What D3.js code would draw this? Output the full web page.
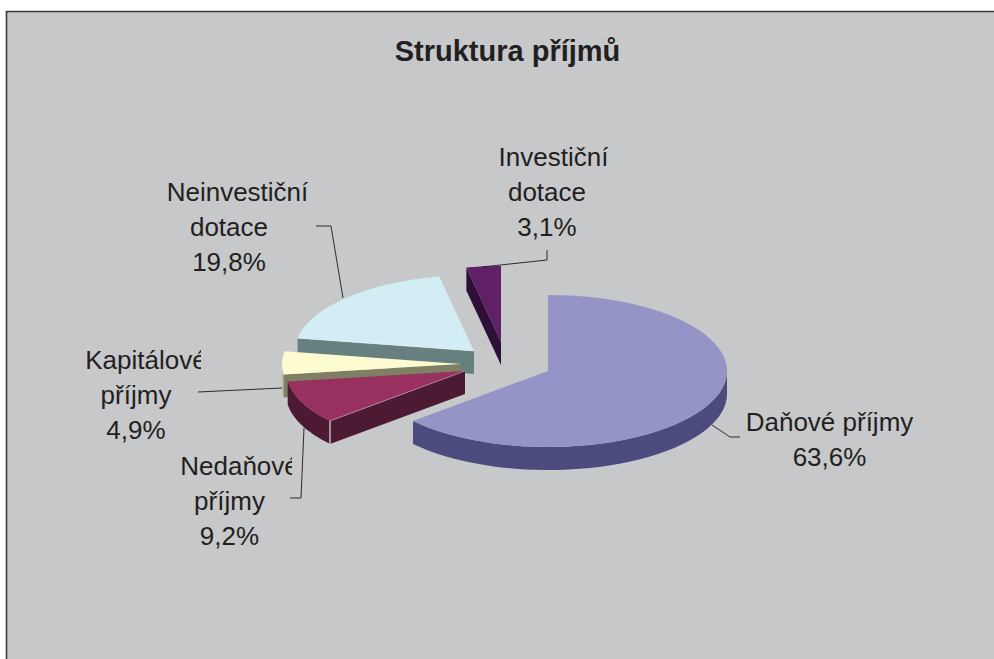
<!DOCTYPE html>
<html>
<head>
<meta charset="utf-8">
<style>
html,body{margin:0;padding:0;background:#fff;}
svg{display:block;}
text{font-family:"Liberation Sans",Arial,sans-serif;fill:#231f20;}
</style>
<script src="https://cdn.jsdelivr.net/npm/d3@7"></script>
</head>
<body>
<svg id="chart" width="994" height="659"></svg>
<script>
// ---- data ----
const categories = ["Daňové příjmy","Nedaňové příjmy","Kapitálové příjmy","Neinvestiční dotace","Investiční dotace"];
const drawnShares = [63.6, 9.2, 4.9, 19.2, 3.1];   // shares as measured from the slices' angles
const labelValues = ["63,6%","9,2%","4,9%","19,8%","3,1%"];
const labelLines = [["Daňové příjmy"],["Nedaňové","příjmy"],["Kapitálové","příjmy"],["Neinvestiční","dotace"],["Investiční","dotace"]];

// ---- layout ----
const W = 994, H = 659;
const rx = 179, ry = 76, depth = 23;
const apexes = [[548,371],[465,371],[461,364],[474,351],[501,342]];
const topColors = ["#9494c6","#983060","#fdfbd0","#d2edf4","#5f2065"];
const cutColors = ["#4b4b7d","#4c1a33","#7f7f66","#668080","#2d0f38"];
const wallColors = ["#4b4b7d","#4c1a33","#b5b59c","#668080","#2d0f38"];
const drawOrder = [4,0,3,2,1];
const labelFirstX = [829.5,239.5,146,237.5,553.5];
const labelRestX = [829.5,229.5,136,229,547];
const labelTopY = [431,475,369,201,166];
const labelClipRight = [null,292,201,null,null];
const lineHeight = 35;
const leaders = [
  [[712,425],[730,437],[740,437]],
  [[290,498],[301,498],[304,428]],
  [[198,392],[282,388]],
  [[316,226],[331,226],[343,298]],
  [[482,267],[547,260],[547,250]]
];

const svg = d3.select("#chart");
const defs = svg.append("defs");

svg.append("rect").attr("x",7).attr("y",12).attr("width",W-7).attr("height",H-12).attr("fill","#c7c8ca");
svg.append("path").attr("d",d3.line()([[6.5,H],[6.5,11.5],[W,11.5]])).attr("fill","none").attr("stroke","#3a3a3c").attr("stroke-width",1.6);

svg.append("text").attr("x",507.5).attr("y",61).attr("text-anchor","middle")
   .attr("font-size",29).attr("font-weight","bold").text("Struktura příjmů");

const pie = d3.pie().sort(null).value(d=>d);
const arcs = pie(drawnShares);
const arcGen = d3.arc().innerRadius(0).outerRadius(rx);
const sy = ry/rx;
const rimX = d3.scaleLinear().domain([-1,1]).range([-rx,rx]);
const rimY = d3.scaleLinear().domain([-1,1]).range([-ry,ry]);
const rim = (i,a,dy=0)=>[apexes[i][0]+rimX(Math.sin(a)), apexes[i][1]-rimY(Math.cos(a))+dy];
const poly = d3.line();
const g = svg.append("g");

drawOrder.forEach(i=>{
  const a0 = arcs[i].startAngle, a1 = arcs[i].endAngle;
  const [ax,ay] = apexes[i];
  // outer wall: only the stretch facing the viewer (90°..270°)
  const w0 = Math.max(a0,Math.PI/2), w1 = Math.min(a1,Math.PI*1.5);
  if (w1 > w0) {
    const samples = d3.range(0,41).map(k=>w0+(w1-w0)*k/40);
    const upper = samples.map(a=>rim(i,a));
    const lower = samples.slice().reverse().map(a=>rim(i,a,depth));
    g.append("path").attr("d",poly(upper.concat(lower))+"Z").attr("fill",wallColors[i]);
  }
  // cut face at the slice's starting edge, if it faces the viewer
  if (Math.sin(a0) < -1e-6) {
    const e = rim(i,a0);
    g.append("path").attr("d",poly([[ax,ay],e,[e[0],e[1]+depth],[ax,ay+depth]])+"Z").attr("fill",cutColors[i]);
  }
  // top surface
  g.append("path").attr("transform",`translate(${ax},${ay}) scale(1,${sy})`)
    .attr("d",arcGen(arcs[i])).attr("fill",topColors[i]);
  // pale highlight on the front edge
  if (i===1 || i===3) {
    const e = rim(i,a0);
    g.append("path").attr("d",poly([[ax,ay],e])).attr("stroke","#fff").attr("stroke-opacity",0.45).attr("stroke-width",0.8).attr("fill","none");
    if (i===1) g.append("path").attr("d",poly([e,[e[0],e[1]+depth]])).attr("stroke","#e6dfe2").attr("stroke-width",1.2).attr("fill","none");
  }
});

// leader lines
leaders.forEach(pts=>{
  svg.append("path").attr("d",poly(pts)).attr("fill","none").attr("stroke","#2b2b2b").attr("stroke-width",1);
});

// labels
categories.forEach((c,i)=>{
  const lines = labelLines[i].concat([labelValues[i]]);
  const t = svg.append("text").attr("text-anchor","middle").attr("font-size",26);
  if (labelClipRight[i] !== null) {
    const id = "clip"+i;
    defs.append("clipPath").attr("id",id).append("rect")
      .attr("x",0).attr("y",0).attr("width",labelClipRight[i]).attr("height",H);
    t.attr("clip-path",`url(#${id})`);
  }
  lines.forEach((l,k)=>{
    t.append("tspan").attr("x",k===0?labelFirstX[i]:labelRestX[i]).attr("y",labelTopY[i]+k*lineHeight).text(l);
  });
});
</script>
</body>
</html>
